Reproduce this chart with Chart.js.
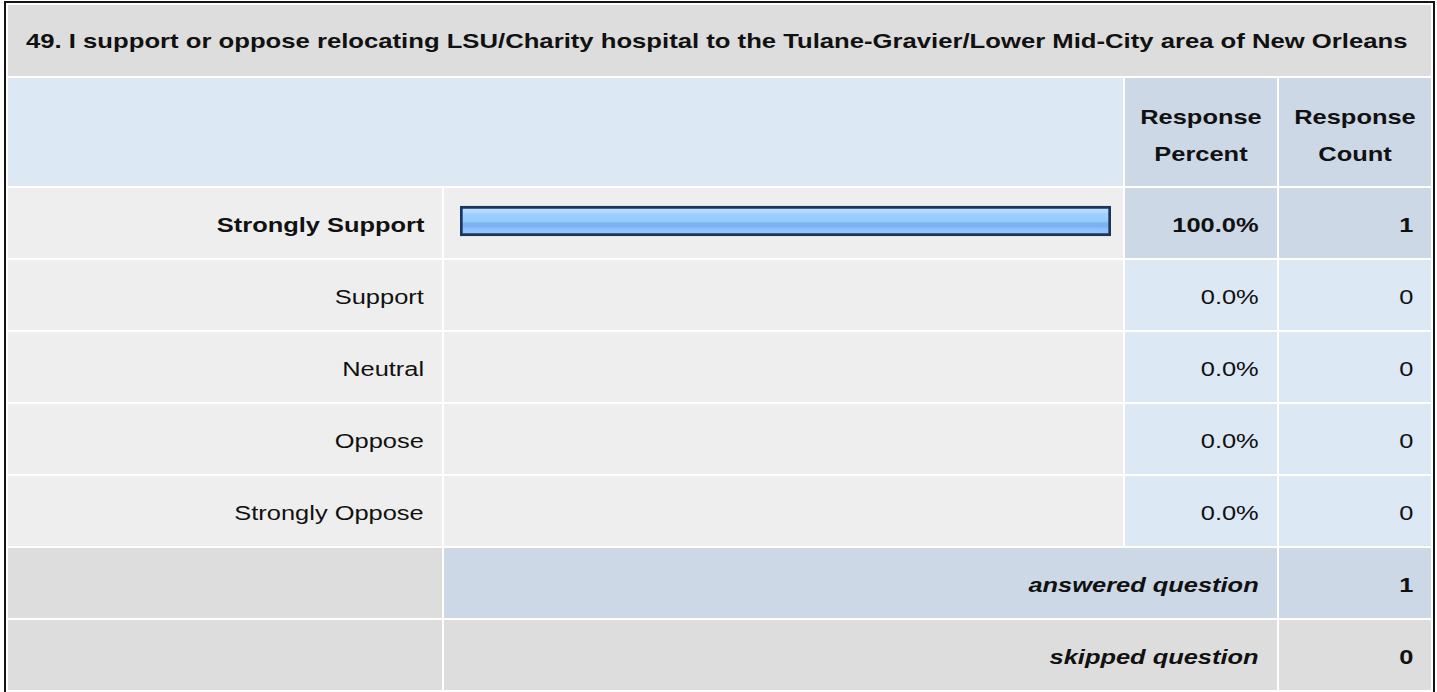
<!DOCTYPE html>
<html>
<head>
<meta charset="utf-8">
<script src="https://cdn.jsdelivr.net/npm/chart.js@4.4.1/dist/chart.umd.min.js"></script>
<style>
  html, body { margin: 0; padding: 0; background: #ffffff; width: 1437px; height: 692px; overflow: hidden; }
  body { font-family: Arial, "Liberation Sans", Helvetica, sans-serif; color: #111; position: relative; }
  #frame { position: absolute; left: 4px; top: 1px; width: 1427px; border: 2px solid #141414; border-bottom: none; height: 700px; }
  table { border-collapse: separate; border-spacing: 2px; width: 1427px; table-layout: fixed; }
  td { padding: 0 18px; box-sizing: border-box; vertical-align: middle; }
  .t { display: inline-block; transform: scaleX(1.24); transform-origin: right center; white-space: nowrap; position: relative; top: 2px; }
  .title td { background: #dddddd; height: 71px; font-weight: bold; font-size: 20.5px; text-align: left; }
  .title .t { transform: scaleX(1.252); transform-origin: left center; top: 0; }
  .head td { height: 108px; }
  .head .blank { background: #dde8f5; }
  .head .hc { background: #ccd8e6; font-weight: bold; font-size: 20.5px; text-align: center; line-height: 37px; }
  .head .hc .t { transform-origin: center center; top: 3px; }
  .row td { height: 70px; font-size: 20.5px; }
  .row .lab { background: #eeeeee; text-align: right; }
  .row .bar { background: #eeeeee; }
  .row .num { background: #dde8f5; text-align: right; }
  .row.sel .num { background: #ccd8e6; font-weight: bold; }
  .row.sel .lab { font-weight: bold; }
  .sum td { height: 70px; font-size: 20.5px; font-weight: bold; }
  .sum .lab { background: #dddddd; }
  .sum .txt { text-align: right; font-style: italic; }
  .sum .num { text-align: right; }
  .sum.ans .txt, .sum.ans .num { background: #ccd8e6; }
  .sum.skp .txt, .sum.skp .num { background: #dddddd; }
  #chartBox { position: absolute; left: 444px; top: 185px; width: 679px; height: 360px; }
</style>
</head>
<body>
<div id="frame">
  <table id="tbl">
    <colgroup>
      <col style="width:434px"><col style="width:679px"><col style="width:152px"><col style="width:152px">
    </colgroup>
    <tbody id="tb"></tbody>
  </table>
</div>
<div id="chartBox"><canvas id="c"></canvas></div>
<script>
const titleText = "49. I support or oppose relocating LSU/Charity hospital to the Tulane-Gravier/Lower Mid-City area of New Orleans";
const headerLabels = ["Response<br>Percent", "Response<br>Count"];
const categories = ["Strongly Support", "Support", "Neutral", "Oppose", "Strongly Oppose"];
const percentValues = [100.0, 0.0, 0.0, 0.0, 0.0];
const countValues = [1, 0, 0, 0, 0];
const summaryLabels = ["answered question", "skipped question"];
const summaryValues = [1, 0];

const tb = document.getElementById('tb');
let html = '';
html += '<tr class="title"><td colspan="4"><span class="t">' + titleText + '</span></td></tr>';
html += '<tr class="head"><td class="blank" colspan="2"></td>' +
        headerLabels.map(h => '<td class="hc"><span class="t">' + h + '</span></td>').join('') + '</tr>';
categories.forEach((cat, i) => {
  const sel = countValues[i] > 0 ? ' sel' : '';
  html += '<tr class="row' + sel + '"><td class="lab"><span class="t">' + cat + '</span></td><td class="bar"></td>' +
          '<td class="num"><span class="t">' + percentValues[i].toFixed(1) + '%</span></td>' +
          '<td class="num"><span class="t">' + countValues[i] + '</span></td></tr>';
});
summaryLabels.forEach((lab, i) => {
  html += '<tr class="sum ' + (i === 0 ? 'ans' : 'skp') + '"><td class="lab"></td>' +
          '<td class="txt" colspan="2"><span class="t">' + lab + '</span></td>' +
          '<td class="num"><span class="t">' + summaryValues[i] + '</span></td></tr>';
});
tb.innerHTML = html;

function barFill(ctx) {
  if (ctx.type !== 'data') return '#99ccff';
  if (!(ctx.raw > 0)) return 'rgba(0,0,0,0)';
  const chart = ctx.chart;
  const ys = chart.scales && chart.scales.y;
  if (!ys || !chart.chartArea) return '#99ccff';
  const py = ys.getPixelForValue(ctx.dataIndex);
  const h = 30;
  const g = chart.ctx.createLinearGradient(0, py - h / 2, 0, py + h / 2);
  g.addColorStop(0.00, '#c9e5ff');
  g.addColorStop(0.18, '#b3d8ff');
  g.addColorStop(0.30, '#9ccdff');
  g.addColorStop(0.50, '#99ccff');
  g.addColorStop(0.58, '#7cb2f2');
  g.addColorStop(0.68, '#7cb2f2');
  g.addColorStop(0.76, '#8cc0ff');
  g.addColorStop(1.00, '#99ccff');
  return g;
}

new Chart(document.getElementById('c'), {
  type: 'bar',
  data: {
    labels: categories,
    datasets: [{
      data: percentValues,
      backgroundColor: barFill,
      borderColor: (ctx) => (ctx.raw > 0 ? '#1b365c' : 'rgba(0,0,0,0)'),
      borderWidth: (ctx) => (ctx.raw > 0 ? 3 : 0),
      borderSkipped: false,
      barThickness: 30
    }]
  },
  options: {
    indexAxis: 'y',
    responsive: true,
    maintainAspectRatio: false,
    animation: false,
    layout: { padding: { left: 16, right: 12, top: 0, bottom: 0 } },
    plugins: { legend: { display: false }, tooltip: { enabled: false }, title: { display: false } },
    scales: {
      x: { display: false, min: 0, max: 100 },
      y: { display: false, offset: true }
    }
  }
});
</script>
</body>
</html>
